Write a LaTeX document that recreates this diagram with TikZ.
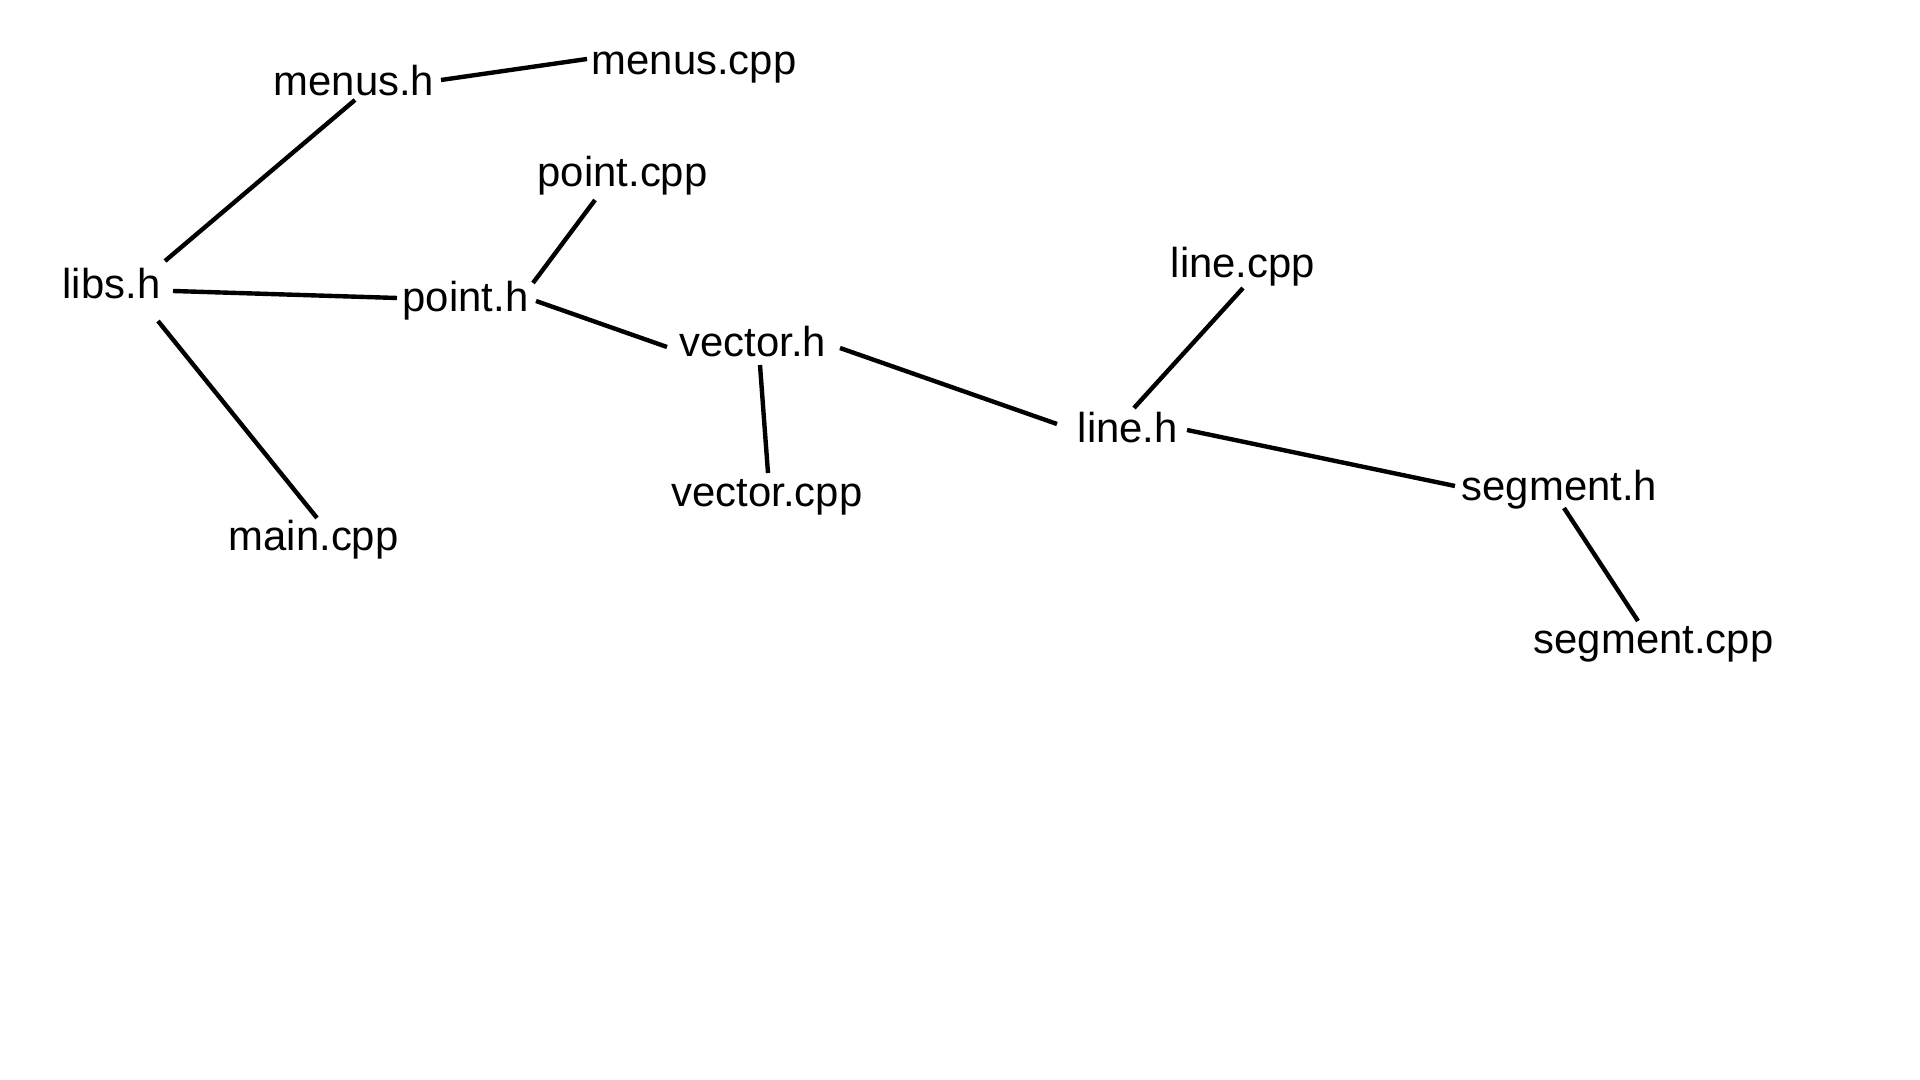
\documentclass[tikz,border=0pt]{standalone}
\usepackage{fontspec}
\setmainfont{Liberation Sans}
\begin{document}
\begin{tikzpicture}[x=0.01cm,y=-0.01cm,
  lbl/.style={anchor=base west,inner sep=0pt,font=\fontsize{11.9pt}{14pt}\selectfont},
  conn/.style={line width=1.25pt,black}]
\useasboundingbox (0,0) rectangle (1920,1080);
\fill[white] (0,0) rectangle (1920,1080);
\node[lbl] (mh) at (273,96) {menus.h};
\node[lbl] (mc) at (591,75) {menus.cpp};
\node[lbl] (pc) at (537,187) {point.cpp};
\node[lbl] (lb) at (62,299) {libs.h};
\node[lbl] (ph) at (402,312) {point.h};
\node[lbl] (vh) at (679,357) {vector.h};
\node[lbl] (vc) at (671,507) {vector.cpp};
\node[lbl] (mn) at (228,551) {main.cpp};
\node[lbl] (lc) at (1170,278) {line.cpp};
\node[lbl] (lh) at (1077,443) {line.h};
\node[lbl] (sh) at (1461,501) {segment.h};
\node[lbl] (sc) at (1533,654) {segment.cpp};
\draw[conn] ([shift={(168,-16)}]mh.base west) -- ([shift={(-4,-16)}]mc.base west);
\draw[conn] ([shift={(82,4)}]mh.base west) -- ([shift={(103,-38)}]lb.base west);
\draw[conn] ([shift={(111,-8)}]lb.base west) -- ([shift={(-5,-14)}]ph.base west);
\draw[conn] ([shift={(96,22)}]lb.base west) -- ([shift={(89,-33)}]mn.base west);
\draw[conn] ([shift={(131,-29)}]ph.base west) -- ([shift={(58,13)}]pc.base west);
\draw[conn] ([shift={(134,-11)}]ph.base west) -- ([shift={(-12,-10)}]vh.base west);
\draw[conn] ([shift={(81,8)}]vh.base west) -- ([shift={(97,-34)}]vc.base west);
\draw[conn] ([shift={(161,-9)}]vh.base west) -- ([shift={(-20,-19)}]lh.base west);
\draw[conn] ([shift={(57,-35)}]lh.base west) -- ([shift={(73,10)}]lc.base west);
\draw[conn] ([shift={(110,-13)}]lh.base west) -- ([shift={(-6,-15)}]sh.base west);
\draw[conn] ([shift={(103,7)}]sh.base west) -- ([shift={(105,-33)}]sc.base west);
\end{tikzpicture}
\end{document}
